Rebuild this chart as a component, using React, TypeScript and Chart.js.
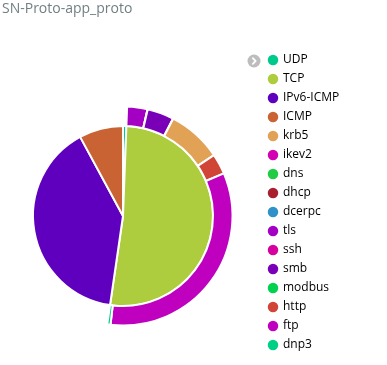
import React, { useEffect, useRef } from 'react';
import { Chart, registerables } from 'chart.js';

Chart.register(...registerables);

// ---------- data ----------
const chartTitle = 'SN-Proto-app_proto';

// inner ring: transport protocol
const protoLabels = ['UDP', 'TCP', 'IPv6-ICMP', 'ICMP'];
const protoValues = [60, 5170, 3980, 790];

// outer ring: app_proto under each transport protocol, clockwise
const appLabels = ['krb5', 'ikev2', 'dns', 'dhcp', 'dcerpc', 'tls', 'ssh', 'smb', 'modbus', 'krb5', 'http', 'ftp', 'dnp3'];
const appParents = ['UDP', 'UDP', 'UDP', 'UDP', 'UDP', 'TCP', 'TCP', 'TCP', 'TCP', 'TCP', 'TCP', 'TCP', 'TCP'];
const appValues = [10, 8, 22, 10, 10, 300, 3, 392, 3, 803, 303, 3318, 48];

// legend
const legendLabels = ['UDP', 'TCP', 'IPv6-ICMP', 'ICMP', 'krb5', 'ikev2', 'dns', 'dhcp', 'dcerpc', 'tls', 'ssh', 'smb', 'modbus', 'http', 'ftp', 'dnp3'];
const legendColors = ['#00c98c', '#aecd3e', '#6000bf', '#ca6334', '#e2a255', '#d400b4', '#21cc45', '#a82030', '#3090c8', '#a300c4', '#d6009e', '#7a00b8', '#00d14f', '#d04535', '#c000bf', '#00cf86'];

const FONT = '"Open Sans", sans-serif';

export default function App() {
  const ref = useRef<HTMLCanvasElement | null>(null);

  useEffect(() => {
    if (!ref.current) return;
    const colorOf = (l: string) => legendColors[legendLabels.indexOf(l)];

    // part of the outer ring not covered by any app_proto
    const covered = new Set(appParents);
    const gap = protoLabels.reduce((s, p, i) => (covered.has(p) ? s : s + protoValues[i]), 0);

    const labels = [...protoLabels, ...appLabels, ''];
    const innerData = [...protoValues, ...appLabels.map(() => 0), 0];
    const outerData = [...protoLabels.map(() => 0), ...appValues, gap];
    const innerColors = [...protoLabels.map(colorOf), ...appLabels.map(colorOf), 'rgba(0,0,0,0)'];
    const outerColors = [...protoLabels.map(colorOf), ...appLabels.map(colorOf), 'rgba(0,0,0,0)'];
    const outerBorders = [...protoLabels.map(() => 2), ...appLabels.map(() => 2), 0];

    // legend sizing
    const fontSize = 12;
    const pad = 7;
    const boxW = 8;
    const m = document.createElement('canvas').getContext('2d')!;
    m.font = `normal ${fontSize}px ${FONT}`;
    const maxText = Math.max(...legendLabels.map((l) => m.measureText(l).width));
    const legendWidth = pad + boxW + fontSize / 2 + maxText + 10;
    const legendLeft = 278; // canvas coords
    const canvasW = 403;
    const padRight = Math.max(0, canvasW - legendLeft - legendWidth);

    const chart = new Chart(ref.current, {
      type: 'pie',
      data: {
        labels,
        datasets: [
          {
            data: outerData,
            backgroundColor: outerColors,
            borderColor: '#ffffff',
            borderWidth: outerBorders,
            weight: 19.5,
          } as any,
          {
            data: innerData,
            backgroundColor: innerColors,
            borderColor: '#ffffff',
            borderWidth: 2,
            weight: 90,
          } as any,
        ],
      },
      options: {
        responsive: false,
        animation: false,
        events: [],
        radius: 109.5,
        layout: { padding: { top: 47, bottom: 0, left: 0, right: padRight } },
        plugins: {
          title: { display: false },
          tooltip: { enabled: false },
          legend: {
            position: 'right',
            align: 'start',
            labels: {
              usePointStyle: true,
              pointStyle: 'circle',
              boxWidth: boxW,
              boxHeight: 7.4,
              padding: pad,
              color: '#717171',
              font: { family: FONT, size: fontSize },
              generateLabels: () =>
                legendLabels.map((l, i) => ({
                  text: l,
                  fillStyle: legendColors[i],
                  strokeStyle: legendColors[i],
                  lineWidth: 0,
                  pointStyle: 'circle',
                  hidden: false,
                  index: i,
                })),
            },
          },
        },
      } as any,
    });
    return () => chart.destroy();
  }, []);

  return (
    <div
      style={{
        position: 'fixed',
        left: 0,
        top: 0,
        width: 387,
        height: 365,
        overflow: 'hidden',
        background: '#ffffff',
      }}
    >
      <canvas
        ref={ref}
        width={403}
        height={385}
        style={{ position: 'absolute', left: -16, top: 0, width: 403, height: 385 }}
      />
      <div
        style={{
          position: 'absolute',
          left: 2,
          top: -2,
          fontFamily: FONT,
          fontSize: 14,
          lineHeight: '19px',
          color: '#717f82',
          whiteSpace: 'nowrap',
        }}
      >
        {chartTitle}
      </div>
      <svg
        width={14}
        height={14}
        viewBox="0 0 14 14"
        style={{ position: 'absolute', left: 246.5, top: 53.5 }}
      >
        <circle cx={7} cy={7} r={6.5} fill="#bdbdbd" />
        <path d="M5.8 4.2 L8.6 7 L5.8 9.8" stroke="#ffffff" strokeWidth={1.8} fill="none" strokeLinecap="round" strokeLinejoin="round" />
      </svg>
    </div>
  );
}
